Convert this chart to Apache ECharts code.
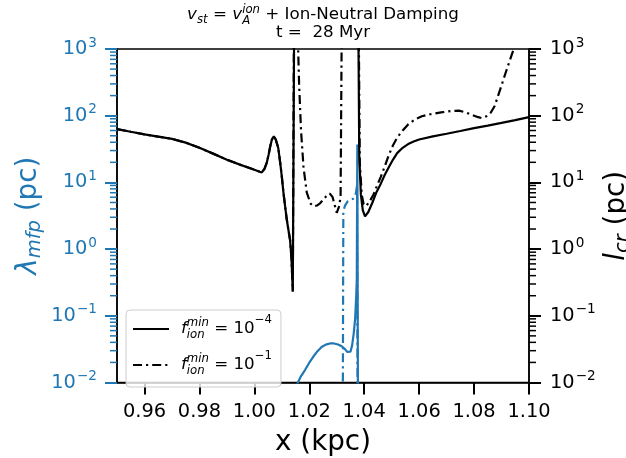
<!DOCTYPE html>
<html>
<head>
<meta charset="utf-8">
<script src="https://cdn.jsdelivr.net/npm/echarts@6/dist/echarts.min.js"></script>
<style>
  html, body { margin: 0; padding: 0; background: #ffffff; }
  #chart { width: 626px; height: 458px; }
</style>
</head>
<body>
<div id="chart"></div>
<script>
// ---- data -----------------------------------------------------------------
const xTicks = [0.96, 0.98, 1.00, 1.02, 1.04, 1.06, 1.08, 1.10];
const minorMantissas = [2, 3, 4, 5, 6, 7, 8, 9];
const decades = [-2, -1, 0, 1, 2];

// l_cr (pc) for f_ion^min = 1e-4, pairs of [x (kpc), value]
const lcrLow = [
  [0.950, 63], [0.955, 57.5], [0.960, 52.5], [0.965, 48.5], [0.970, 45],
  [0.975, 39.5], [0.980, 33], [0.985, 27], [0.990, 21.9], [0.995, 18.3],
  [1.000, 15.5], [1.0027, 14.1], [1.0037, 16], [1.0045, 19.6], [1.0052, 26],
  [1.0058, 35], [1.0064, 44], [1.0071, 49], [1.0078, 44], [1.0087, 33],
  [1.0094, 20], [1.0100, 12.3], [1.0106, 7], [1.0112, 4.4], [1.0118, 2.8],
  [1.0124, 1.95], [1.0130, 1.38], [1.0135, 0.75], [1.0140, 0.232],
  [1.0147, 1e5], [1.0376, 1e5], [1.0382, 25], [1.0388, 6.5], [1.0395, 3.8],
  [1.0403, 3.1], [1.0415, 3.6], [1.0430, 5.0], [1.0445, 7.2], [1.0460, 9.5],
  [1.0475, 13], [1.0490, 17], [1.0505, 22], [1.0520, 27.5], [1.0540, 33],
  [1.0560, 37.5], [1.0580, 41], [1.0600, 44], [1.0650, 49], [1.0700, 53.6],
  [1.0750, 59], [1.0800, 65], [1.0850, 71], [1.0900, 78], [1.0950, 86],
  [1.1000, 95]
];

// l_cr (pc) for f_ion^min = 1e-1
const lcrHigh = [
  [0.950, 63], [0.955, 57.5], [0.960, 52.5], [0.965, 48.5], [0.970, 45],
  [0.975, 39.5], [0.980, 33], [0.985, 27], [0.990, 21.9], [0.995, 18.3],
  [1.000, 15.5], [1.0027, 14.1], [1.0037, 16], [1.0045, 19.6], [1.0052, 26],
  [1.0058, 35], [1.0064, 44], [1.0071, 49], [1.0078, 44], [1.0087, 33],
  [1.0094, 20], [1.0100, 12.3], [1.0106, 7], [1.0112, 4.4], [1.0118, 2.8],
  [1.0124, 1.95], [1.0130, 1.38], [1.0135, 0.75], [1.0140, 0.232],
  [1.0146, 1e5], [1.0153, 1e5], [1.0163, 300], [1.0170, 60], [1.0179, 17],
  [1.0191, 7], [1.0205, 4.8], [1.0215, 4.4], [1.0228, 4.5], [1.0240, 4.9],
  [1.0262, 6.2], [1.0275, 6.8], [1.0285, 6.0], [1.0293, 4.5], [1.0300, 3.5],
  [1.0308, 4.3], [1.0314, 6], [1.0321, 1e5], [1.0377, 1e5], [1.0384, 20],
  [1.0391, 6.5], [1.0398, 4.7], [1.0407, 4.4], [1.0420, 5.2], [1.0434, 6.6],
  [1.0447, 9], [1.0460, 12], [1.0475, 17.5], [1.0490, 26], [1.0505, 36],
  [1.0520, 47], [1.0540, 60], [1.0560, 74], [1.0585, 88], [1.0610, 98],
  [1.0640, 105], [1.0680, 112], [1.0720, 118], [1.0745, 119], [1.0770, 112],
  [1.0795, 102], [1.0815, 95], [1.0828, 92], [1.0845, 98], [1.0860, 110],
  [1.0875, 140], [1.0894, 240], [1.0918, 480], [1.0943, 960], [1.0965, 2000]
];

// lambda_mfp (pc) for f_ion^min = 1e-4
const mfpLow = [
  [1.0145, 0.002], [1.0157, 0.0097], [1.0170, 0.0125], [1.0185, 0.0155],
  [1.0200, 0.0198], [1.0215, 0.0245], [1.0230, 0.0295], [1.0245, 0.034],
  [1.0260, 0.037], [1.0275, 0.0385], [1.0290, 0.0385], [1.0305, 0.0372],
  [1.0318, 0.035], [1.0330, 0.0316], [1.0338, 0.0288], [1.0344, 0.0275],
  [1.0350, 0.029], [1.0356, 0.036], [1.0362, 0.055], [1.0367, 0.09],
  [1.0371, 0.2], [1.0373, 0.35], [1.0375, 37], [1.0378, 0.0001]
];

// lambda_mfp (pc) for f_ion^min = 1e-1
const mfpHigh = [
  [1.0321, 0.0001], [1.0324, 3.6], [1.0330, 4.5], [1.0340, 5.2], [1.0350, 5.5],
  [1.0360, 5.7], [1.0368, 6.2], [1.0374, 9], [1.0377, 0.0001]
];

// ---- styling ----------------------------------------------------------------
const FONT = 'DejaVu Sans';
const BLUE = '#1f77b4';
const X_MIN = 0.95, X_MAX = 1.10;
const TICK_FS = 19.4, TICK_SUP_FS = 13.6;
const NAME_FS = 27.8, NAME_SUB_FS = 19.5;
const DASHDOT = [9, 4, 2.2, 4];

const minorTickValues = [];
decades.forEach(e => minorMantissas.forEach(m => minorTickValues.push(m * Math.pow(10, e))));

function expText(v) {
  const e = Math.round(Math.log10(v));
  return '{b|10}{e|' + (e < 0 ? '\u2212' + (-e) : e) + '}';
}
function tickRich(color) {
  return {
    b: { fontFamily: FONT, fontSize: TICK_FS, color: color, lineHeight: 22 },
    e: { fontFamily: FONT, fontSize: TICK_SUP_FS, color: color, lineHeight: 22, padding: [0, 0, 12, 1] }
  };
}
function nameRich(color) {
  return {
    m: { fontFamily: FONT, fontSize: NAME_FS, fontStyle: 'italic', color: color, lineHeight: 34 },
    s: { fontFamily: FONT, fontSize: NAME_SUB_FS, fontStyle: 'italic', color: color, lineHeight: 34, padding: [12, 0, 0, 0] },
    n: { fontFamily: FONT, fontSize: NAME_FS, color: color, lineHeight: 34 }
  };
}
function minorTicks(axisIndex, xAt, dir, color) {
  return {
    type: 'custom', yAxisIndex: axisIndex, silent: true, clip: false, z: 5,
    data: minorTickValues.map(v => [xAt, v]),
    renderItem: function (params, api) {
      const p = api.coord([api.value(0), api.value(1)]);
      return {
        type: 'line',
        shape: { x1: p[0], y1: p[1], x2: p[0] + dir * 7, y2: p[1] },
        style: { stroke: color, lineWidth: 1.5 }
      };
    }
  };
}

const legendRich = {
  gap: { width: 7, lineHeight: 24 },
  f: { fontFamily: FONT, fontSize: 16.7, fontStyle: 'italic', color: '#000', lineHeight: 24 },
  lo: { fontFamily: FONT, fontSize: 11.7, fontStyle: 'italic', color: '#000', lineHeight: 24, width: 0, align: 'left', padding: [12, 0, 0, 0] },
  hi: { fontFamily: FONT, fontSize: 11.7, fontStyle: 'italic', color: '#000', lineHeight: 24, align: 'left', padding: [0, 0, 12, 0] },
  t: { fontFamily: FONT, fontSize: 16.7, color: '#000', lineHeight: 24 },
  x: { fontFamily: FONT, fontSize: 11.7, color: '#000', lineHeight: 24, padding: [0, 0, 18, 0] }
};
const legendText = {
  'f_min_1e-4': '{gap|}{f|f}{lo|ion}{hi|min}{t| = 10}{x|\u22124}',
  'f_min_1e-1': '{gap|}{f|f}{lo|ion}{hi|min}{t| = 10}{x|\u22121}'
};

const titleBase = { fontFamily: FONT, color: '#000', fontWeight: 'normal', lineHeight: 18 };
const titleRich = {
  v: Object.assign({}, titleBase, { fontSize: 16.7, fontStyle: 'italic', align: 'left' }),
  s: Object.assign({}, titleBase, { fontSize: 11.7, fontStyle: 'italic', align: 'left', padding: [9, 0, 0, 0] }),
  lo: Object.assign({}, titleBase, { fontSize: 11.7, fontStyle: 'italic', align: 'left', width: 0, padding: [11, 0, 0, 0] }),
  hi: Object.assign({}, titleBase, { fontSize: 11.7, fontStyle: 'italic', align: 'left', padding: [0, 0, 10, 0] }),
  t: Object.assign({}, titleBase, { fontSize: 16.7, align: 'left' }),
  c: Object.assign({}, titleBase, { fontSize: 16.7 })
};

const chart = echarts.init(document.getElementById('chart'), null, { renderer: 'canvas' });

chart.setOption({
  animation: false,
  backgroundColor: '#ffffff',
  title: {
    left: 323, top: 6, padding: 0, textAlign: 'center',
    text: '{v|v}{s|st}{t| = }{v|v}{lo|A}{hi|ion}{t| + Ion-Neutral Damping}\n{c|t =  28 Myr}',
    textStyle: { fontWeight: 'normal', fontFamily: FONT, rich: titleRich }
  },
  grid: {
    left: 117, right: 97, top: 49, bottom: 75.5,
    show: true, borderColor: '#000', borderWidth: 1.5, backgroundColor: 'transparent',
    containLabel: false, outerBoundsMode: 'none'
  },
  legend: {
    data: ['f_min_1e-4', 'f_min_1e-1'],
    orient: 'vertical', left: 126, top: 310,
    padding: [4, 9, 7, 6], itemGap: 6, itemWidth: 36, itemHeight: 14,
    backgroundColor: 'rgba(255,255,255,0.8)', borderColor: '#cccccc', borderWidth: 1, borderRadius: 4,
    itemStyle: { opacity: 0 },
    formatter: name => legendText[name],
    textStyle: { fontFamily: FONT, fontSize: 16.7, color: '#000', rich: legendRich }
  },
  xAxis: {
    type: 'value', min: X_MIN, max: X_MAX,
    name: 'x (kpc)', nameLocation: 'middle', nameGap: 46, nameMoveOverlap: false,
    nameTextStyle: { fontFamily: FONT, fontSize: NAME_FS, color: '#000' },
    axisLine: { show: true, lineStyle: { color: '#000', width: 1.5 } },
    axisTick: { show: true, length: 12, customValues: xTicks, lineStyle: { color: '#000', width: 2 } },
    axisLabel: {
      show: true, margin: 20, customValues: xTicks,
      fontFamily: FONT, fontSize: TICK_FS, color: '#000',
      formatter: v => v.toFixed(2)
    },
    splitLine: { show: false }
  },
  yAxis: [
    {
      type: 'log', logBase: 10, min: 0.01, max: 1000, position: 'left',
      name: '{m|λ}{s|mfp}{n| (pc)}', nameLocation: 'middle', nameGap: 71, nameMoveOverlap: false,
      nameTextStyle: { rich: nameRich(BLUE) },
      axisLine: { show: true, lineStyle: { color: '#000', width: 1.5 } },
      axisTick: { show: true, length: 12, lineStyle: { color: BLUE, width: 2 } },
      axisLabel: { show: true, margin: 20, formatter: expText, rich: tickRich(BLUE) },
      splitLine: { show: false }, minorTick: { show: false }
    },
    {
      type: 'log', logBase: 10, min: 0.01, max: 1000, position: 'right',
      name: '{m|l}{s|cr}{n| (pc)}', nameLocation: 'middle', nameGap: 71, nameMoveOverlap: false,
      nameTextStyle: { rich: nameRich('#000') },
      axisLine: { show: true, lineStyle: { color: '#000', width: 1.5 } },
      axisTick: { show: true, length: 12, lineStyle: { color: '#000', width: 2 } },
      axisLabel: { show: true, margin: 21, formatter: expText, rich: tickRich('#000') },
      splitLine: { show: false }, minorTick: { show: false }
    }
  ],
  series: [
    minorTicks(0, X_MIN, -1, BLUE),
    minorTicks(1, X_MAX, 1, '#000'),
    {
      name: 'mfp_1e-4', type: 'line', yAxisIndex: 0, data: mfpLow,
      symbol: 'none', showSymbol: false, clip: true, z: 2,
      lineStyle: { color: BLUE, width: 2.2 }
    },
    {
      name: 'mfp_1e-1', type: 'line', yAxisIndex: 0, data: mfpHigh,
      symbol: 'none', showSymbol: false, clip: true, z: 2,
      lineStyle: { color: BLUE, width: 2.2, type: DASHDOT }
    },
    {
      name: 'f_min_1e-4', type: 'line', yAxisIndex: 1, data: lcrLow,
      symbol: 'none', showSymbol: false, clip: true, z: 3,
      itemStyle: { color: '#000' },
      lineStyle: { color: '#000', width: 2.2 }
    },
    {
      name: 'f_min_1e-1', type: 'line', yAxisIndex: 1, data: lcrHigh,
      symbol: 'none', showSymbol: false, clip: true, z: 3,
      itemStyle: { color: '#000' },
      lineStyle: { color: '#000', width: 2.2, type: DASHDOT }
    }
  ]
});
</script>
</body>
</html>
